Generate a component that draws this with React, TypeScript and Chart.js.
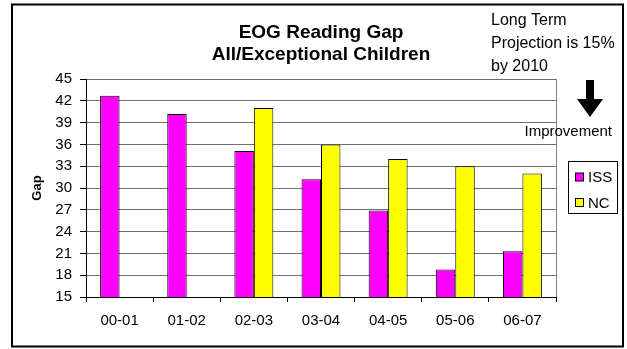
import React, { useEffect, useRef } from 'react';
import { Chart, registerables } from 'chart.js';

Chart.register(...registerables);

// School years on the category axis
const seasons = ['00-01', '01-02', '02-03', '03-04', '04-05', '05-06', '06-07'];
// Reading gap, ISS (district) and NC (state)
const issGap = [42.7, 40.2, 35.1, 31.2, 26.9, 18.8, 21.3];
const ncGap: (number | null)[] = [null, null, 41, 36, 34, 33, 32];
const seriesNames = ['ISS', 'NC'];
const seriesColors = ['#FF00FF', '#FFFF00'];

const gapMin = 15;
const gapMax = 45;
const gapStep = 3;

const titleLines = ['EOG Reading Gap', 'All/Exceptional Children'];
const noteLines = ['Long Term', 'Projection is 15%', 'by 2010'];
const arrowLabel = 'Improvement';
const axisTitle = 'Gap';

const FONT = "'Liberation Sans', Arial, Helvetica, sans-serif";

const decorations = {
  id: 'decorations',
  beforeDatasetsDraw(chart: any) {
    const { ctx, chartArea: a } = chart;
    ctx.save();
    // grey plot-area border on the right
    ctx.strokeStyle = '#808080';
    ctx.lineWidth = 1;
    ctx.beginPath();
    ctx.moveTo(Math.round(a.right) + 0.5, a.bottom);
    ctx.lineTo(Math.round(a.right) + 0.5, a.top);
    ctx.stroke();
    ctx.restore();
  },
  afterDraw(chart: any) {
    const { ctx, chartArea: a } = chart;
    ctx.save();

    // outer frame
    ctx.strokeStyle = '#000';
    ctx.lineWidth = 2;
    ctx.strokeRect(12, 4.5, 611, 342);

    ctx.fillStyle = '#000';
    ctx.textBaseline = 'alphabetic';

    // two-line title centred over the plot
    ctx.textAlign = 'center';
    ctx.font = `bold 19px ${FONT}`;
    const cx = (a.left + a.right) / 2;
    titleLines.forEach((t, i) => ctx.fillText(t, cx, 38 + i * 22));

    // projection note
    ctx.textAlign = 'left';
    ctx.font = `16px ${FONT}`;
    noteLines.forEach((t, i) => ctx.fillText(t, 491, 25 + i * 23));

    // downward arrow
    ctx.beginPath();
    ctx.moveTo(586, 80);
    ctx.lineTo(594, 80);
    ctx.lineTo(594, 99);
    ctx.lineTo(603, 99);
    ctx.lineTo(590, 117);
    ctx.lineTo(577, 99);
    ctx.lineTo(586, 99);
    ctx.closePath();
    ctx.fill();

    ctx.textAlign = 'right';
    ctx.font = `15px ${FONT}`;
    ctx.fillText(arrowLabel, 612, 136);

    // legend
    ctx.lineWidth = 1;
    ctx.strokeStyle = '#000';
    ctx.strokeRect(568.5, 161.5, 49, 52);
    ctx.textAlign = 'left';
    ctx.textBaseline = 'middle';
    ctx.font = `15px ${FONT}`;
    chart.data.datasets.forEach((ds: any, i: number) => {
      const cy = 177 + i * 25.5;
      ctx.fillStyle = ds.backgroundColor;
      ctx.fillRect(575.5, cy - 4, 8, 8);
      ctx.strokeRect(575.5, cy - 4, 8, 8);
      ctx.fillStyle = '#000';
      ctx.fillText(ds.label, 588, cy + 1);
    });

    ctx.restore();
  },
};

export default function App() {
  const canvasRef = useRef<HTMLCanvasElement | null>(null);

  useEffect(() => {
    const canvas = canvasRef.current;
    if (!canvas) return;
    Chart.defaults.font.family = FONT;
    Chart.defaults.color = '#000';

    const chart = new Chart(canvas, {
      type: 'bar',
      data: {
        labels: seasons,
        datasets: [
          {
            label: seriesNames[0],
            data: issGap,
            backgroundColor: seriesColors[0],
            borderColor: '#000',
            borderWidth: 1,
          },
          {
            label: seriesNames[1],
            data: ncGap,
            backgroundColor: seriesColors[1],
            borderColor: '#000',
            borderWidth: 1,
          },
        ],
      },
      options: {
        responsive: false,
        maintainAspectRatio: false,
        animation: false,
        devicePixelRatio: 1,
        layout: { padding: { left: 20, top: 79, right: 71, bottom: 22 } },
        datasets: {
          bar: { categoryPercentage: 0.58, barPercentage: 1 },
        },
        plugins: {
          legend: { display: false },
          title: { display: false },
          tooltip: { enabled: false },
        },
        scales: {
          x: {
            grid: {
              drawOnChartArea: false,
              drawTicks: true,
              tickLength: 5,
              tickColor: '#000',
            },
            border: { color: '#000', width: 1 },
            ticks: { font: { size: 15 }, padding: 10, color: '#000', maxRotation: 0 },
            afterFit(scale: any) {
              scale.height = 30;
            },
          },
          y: {
            min: gapMin,
            max: gapMax,
            grid: {
              color: '#707070',
              tickLength: 6,
              tickColor: '#000',
            },
            border: { color: '#000', width: 1 },
            ticks: { stepSize: gapStep, font: { size: 15 }, padding: 8, color: '#000' },
            title: {
              display: true,
              text: axisTitle,
              font: { size: 13, weight: 'bold' },
              padding: { top: 10, bottom: 0 },
              color: '#000',
            },
            afterFit(scale: any) {
              scale.width = 66;
            },
          },
        },
      },
      plugins: [decorations],
    });

    return () => chart.destroy();
  }, []);

  return (
    <div style={{ position: 'fixed', left: 0, top: 0, width: 627, height: 349, background: '#fff' }}>
      <canvas ref={canvasRef} width={627} height={349} style={{ display: 'block', width: 627, height: 349 }} />
    </div>
  );
}
